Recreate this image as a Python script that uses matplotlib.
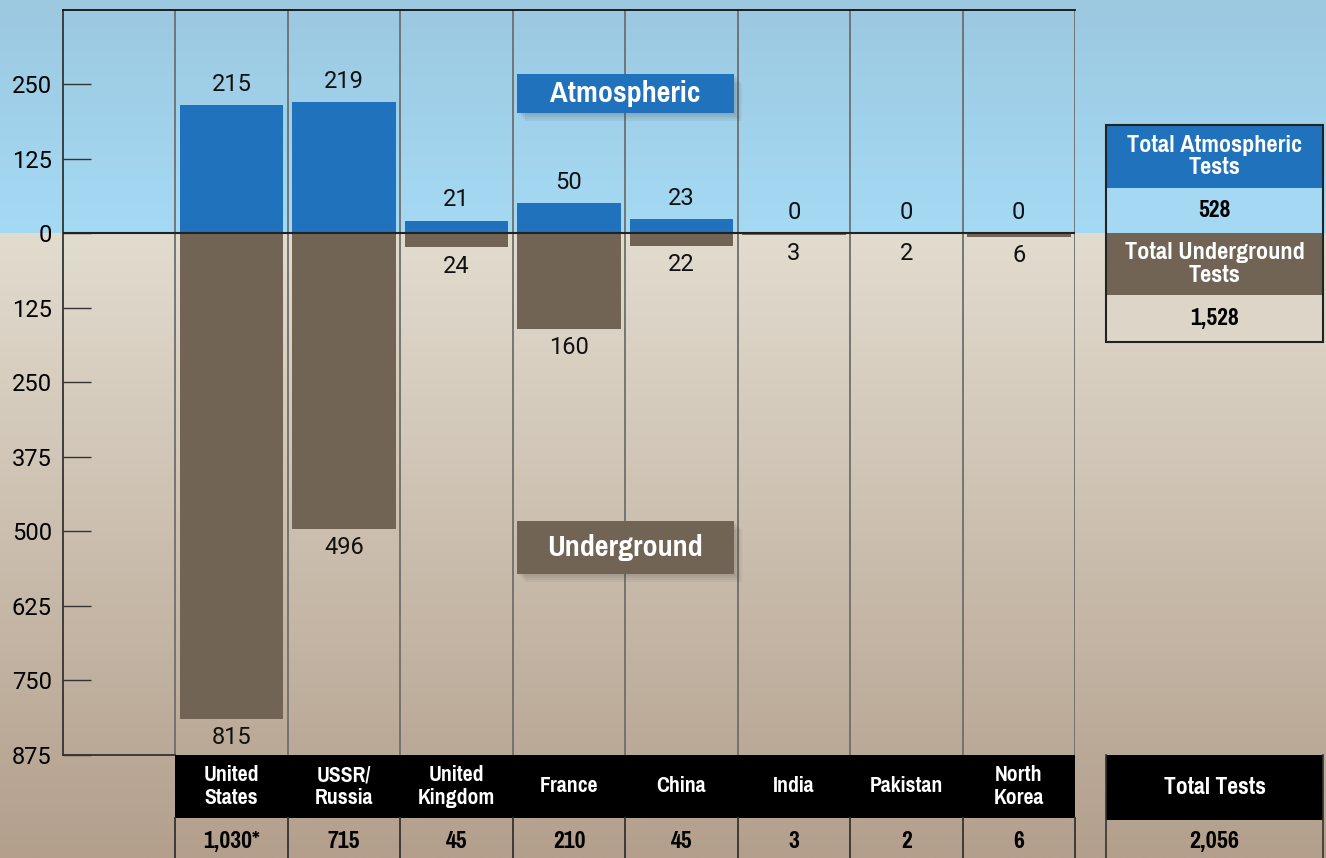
import numpy as np
import matplotlib
matplotlib.use("Agg")
import matplotlib.pyplot as plt
from matplotlib.patches import Rectangle
from matplotlib.ticker import FuncFormatter
from matplotlib import font_manager as fm

countries = ["United\nStates", "USSR/\nRussia", "United\nKingdom", "France", "China",
             "India", "Pakistan", "North\nKorea"]
atmospheric = [215, 219, 21, 50, 23, 0, 0, 0]
underground = [815, 496, 24, 160, 22, 3, 2, 6]
country_totals = ["1,030*", "715", "45", "210", "45", "3", "2", "6"]
yticks = [250, 125, 0, -125, -250, -375, -500, -625, -750, -875]
total_atm = "528"
total_und = "1,528"
total_all = "2,056"

cand = []
for f in fm.fontManager.ttflist:
    fn = f.fname.lower()
    if ("narrow" in fn or "condensed" in fn) and "bold" in fn and "oblique" not in fn and "italic" not in fn:
        cand.append(f.fname)
pref = sorted(cand, key=lambda p: (0 if "narrow" in p.lower() else 1 if "roboto" in p.lower() else 2, len(p)))
if pref:
    def NP(size):
        return fm.FontProperties(fname=pref[0], size=size)
else:
    def NP(size):
        return fm.FontProperties(family="Roboto", weight="bold", size=size * 0.85)

NUM = ["Roboto", "DejaVu Sans"]
BLUE = "#1f72bb"
BROWN = "#716455"

W, H = 1326, 858
fig = plt.figure(figsize=(W / 100, H / 100), dpi=100)

bg = fig.add_axes([0, 0, 1, 1], zorder=0)
sky = np.linspace(0, 1, 100)[:, None]
c1, c2 = np.array([0x9c, 0xc8, 0xe0]) / 255, np.array([0xa5, 0xda, 0xf4]) / 255
sky_img = (c1 * (1 - sky[..., None]) + c2 * sky[..., None]) * np.ones((1, 2, 1))
bg.imshow(sky_img, extent=(0, W, 233, 0), aspect="auto", interpolation="bilinear")
g1, g2 = np.array([0xe2, 0xdc, 0xcf]) / 255, np.array([0xb3, 0x9f, 0x8c]) / 255
ground_img = (g1 * (1 - sky[..., None]) + g2 * sky[..., None]) * np.ones((1, 2, 1))
bg.imshow(ground_img, extent=(0, W, H, 233), aspect="auto", interpolation="bilinear")
bg.set_xlim(0, W)
bg.set_ylim(H, 0)
bg.axis("off")

def box(axx, x0, y0, x1, y1, fc, text=None, tc="white", fs=15.5):
    axx.add_patch(Rectangle((x0, y0), x1 - x0, y1 - y0, facecolor=fc, edgecolor="none", lw=0))
    if text is not None:
        axx.text((x0 + x1) / 2, (y0 + y1) / 2, text, ha="center", va="center", color=tc,
                 fontproperties=NP(fs), linespacing=1.08)

box(bg, 1106, 125, 1323, 188, BLUE, "Total Atmospheric\nTests", fs=19)
box(bg, 1106, 188, 1323, 233, "#a5d9f3", total_atm, tc="black", fs=18.5)
box(bg, 1106, 233, 1323, 295, BROWN, "Total Underground\nTests", fs=19)
box(bg, 1106, 295, 1323, 342, "#ddd5c8", total_und, tc="black", fs=18.5)
bg.add_patch(Rectangle((1106, 125), 217, 217, facecolor="none", edgecolor="#222222", lw=1.5))
box(bg, 1106, 755, 1323, 820, "black", "Total Tests", fs=18.5)
box(bg, 1106, 820, 1323, 864, "none", total_all, tc="black", fs=19)
bg.plot([1106, 1106], [755, 858], color="#333333", lw=1.2)
bg.plot([1323, 1323], [755, 858], color="#333333", lw=1.2)

x0p, x1p, y0p, y1p = 63, 1075, 10, 755
ax = fig.add_axes([x0p / W, 1 - y1p / H, (x1p - x0p) / W, (y1p - y0p) / H], zorder=2)
ax.patch.set_alpha(0)
ax.set_xlim(-1.5, 7.5)
ax.set_ylim(-875, 374)

x = np.arange(len(countries))
ax.bar(x, atmospheric, width=0.92, color=BLUE, zorder=3)
ax.bar(x, [-u for u in underground], width=0.92, color=BROWN, zorder=3)

for xi, a in zip(x, atmospheric):
    ax.annotate(str(a), (xi, a), xytext=(0, 15), textcoords="offset points",
                ha="center", va="center", fontsize=17, family=NUM, color="#111111")
for xi, u in zip(x, underground):
    ax.annotate(str(u), (xi, -u), xytext=(0, -13.5), textcoords="offset points",
                ha="center", va="center", fontsize=17, family=NUM, color="#111111")

for b in np.arange(-0.5, 7.6, 1):
    ax.axvline(b, color="#6e6e6e", lw=1.3, zorder=2)
ax.axhline(0, color="#222222", lw=1.5, zorder=4)

for s in ["right", "bottom"]:
    ax.spines[s].set_visible(False)
ax.spines["top"].set_color("#111111")
ax.spines["left"].set_color("#333333")
ax.spines["top"].set_linewidth(1.3)
ax.spines["left"].set_linewidth(1.3)
ax.plot([-1.5, -0.5], [-875, -875], color="#333333", lw=1.3, clip_on=False, zorder=4)

ax.set_yticks(yticks)
ax.yaxis.set_major_formatter(FuncFormatter(lambda v, p: f"{abs(int(v))}"))
ax.tick_params(axis="y", direction="in", length=20, width=1, color="#333333",
               labelsize=17, pad=8)
for lab in ax.get_yticklabels():
    lab.set_family(NUM)
ax.set_xticks([])

def legend_box(xa, xb, ya, yb, fc, text):
    for k in range(4):
        d = 2 + 2 * k
        ax.add_patch(Rectangle((xa + d * 0.009, yb - d * 1.7), xb - xa, ya - yb,
                               facecolor="#333333", alpha=0.06, lw=0, zorder=4))
    ax.add_patch(Rectangle((xa, yb), xb - xa, ya - yb, facecolor=fc, lw=0, zorder=5))
    ax.text((xa + xb) / 2, (ya + yb) / 2, text, ha="center", va="center", color="white",
            fontproperties=NP(23.5), zorder=6)

legend_box(2.536, 4.464, 266, 201, BLUE, "Atmospheric")
legend_box(2.536, 4.464, -482, -571, BROWN, "Underground")

ytop, ymid, ybot = -875, -980, -1060
ax.add_patch(Rectangle((-0.5, ymid), 8, ytop - ymid, facecolor="black", lw=0,
                       clip_on=False, zorder=5))
for xi, name, tot in zip(x, countries, country_totals):
    ax.text(xi, (ytop + ymid) / 2, name, ha="center", va="center", color="white",
            fontproperties=NP(17), linespacing=1.15, clip_on=False, zorder=6)
    ax.text(xi, -1020, tot, ha="center", va="center", color="black",
            fontproperties=NP(18.5), clip_on=False, zorder=6)
for b in np.arange(-0.5, 7.6, 1):
    ax.plot([b, b], [ymid, ybot], color="#333333", lw=1.3, clip_on=False, zorder=5)

fig.savefig("out.png", dpi=100)
